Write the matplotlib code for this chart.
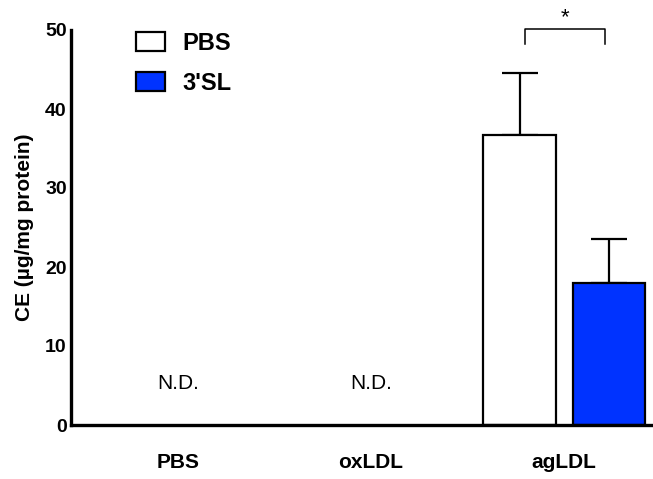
import matplotlib.pyplot as plt
import numpy as np

plt.rcParams['font.family'] = ['Liberation Sans', 'DejaVu Sans']

groups = ['PBS', 'oxLDL', 'agLDL']
treatments = ['PBS', "3'SL"]
colors = ['white', '#0033ff']
# agLDL only; other groups not detected
ag_means = [36.7, 18.0]
ag_errs = [7.9, 5.5]
nd_groups = [0, 1]

fig = plt.figure(figsize=(6.53, 4.79), dpi=100)
ax = fig.add_axes([71 / 653, 1 - 425 / 479, 1 - 71 / 653, 395 / 479])

x = np.arange(len(groups))
width = 0.378
offsets = [-0.23, 0.233]

for i, (m, e) in enumerate(zip(ag_means, ag_errs)):
    xi = x[2] + offsets[i]
    ax.errorbar(xi, m, yerr=[[0], [e]], fmt='none', ecolor='black',
                elinewidth=1.6, capsize=13.3, capthick=1.6, zorder=1)
    ax.bar(xi, m, width, color=colors[i], edgecolor='black', linewidth=1.6,
           zorder=2, label=treatments[i])

for g in nd_groups:
    ax.text(x[g], 5.2, 'N.D.', ha='center', va='center', fontsize=15)

# significance bracket
bx0, bx1 = x[2] - 0.2, x[2] + 0.21
ax.plot([bx0, bx0, bx1, bx1], [48.2, 50.1, 50.1, 48.2], color='black',
        lw=1.1, clip_on=False)
ax.text((bx0 + bx1) / 2, 50.2, '*', ha='center', va='bottom', fontsize=16)

ax.set_xlim(-0.554, 2.461)
ax.set_ylim(0, 50)
ax.set_yticks([0, 10, 20, 30, 40, 50])
ax.set_xticks(x)
ax.set_xticklabels(groups, fontsize=15, fontweight='bold')
ax.tick_params(axis='y', length=0, labelsize=14, pad=3)
ax.tick_params(axis='x', length=0, pad=20)
for t in ax.get_yticklabels():
    t.set_fontweight('bold')
ax.spines['top'].set_visible(False)
ax.spines['right'].set_visible(False)
ax.spines['left'].set_linewidth(2.4)
ax.spines['bottom'].set_linewidth(2.4)
ax.set_ylabel('CE (µg/mg protein)', fontsize=15, fontweight='bold', labelpad=8)

leg = ax.legend(loc='upper left', bbox_to_anchor=(0.075, 1.05), frameon=False,
                prop={'size': 17, 'weight': 'bold'}, handlelength=1.23,
                handleheight=0.85, labelspacing=0.72, handletextpad=0.72)

fig.savefig('out.png', dpi=100)
